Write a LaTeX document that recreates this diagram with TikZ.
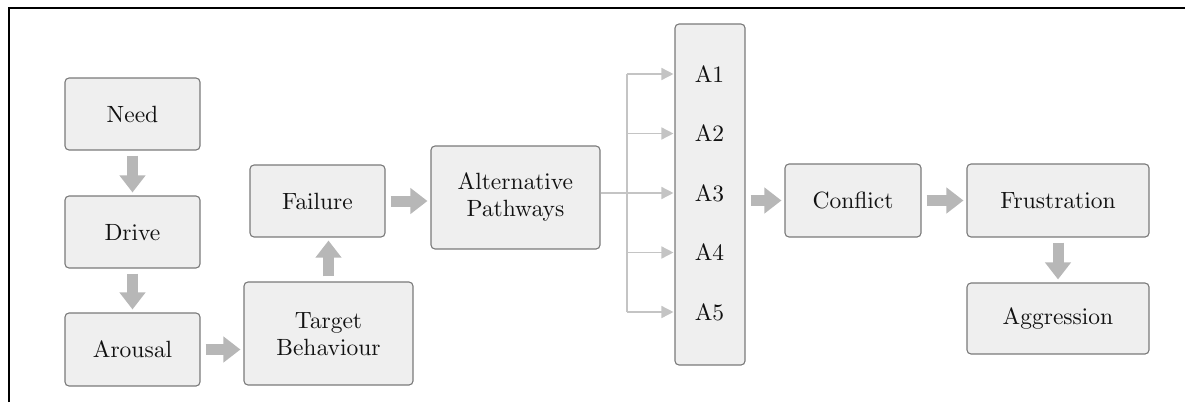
\documentclass[tikz,border=0pt]{standalone}
\usetikzlibrary{arrows.meta}
\definecolor{boxfill}{HTML}{EFEFEF}
\definecolor{boxline}{HTML}{7A7A7A}
\definecolor{arrowgray}{HTML}{B7B7B7}
\definecolor{thingray}{HTML}{C4C4C4}
\definecolor{textcol}{HTML}{111111}
\font\diagfont=cmr10 at 23.5pt
\begin{document}
\begin{tikzpicture}[x=1pt,y=-1pt,
  box/.style={draw=boxline, fill=boxfill, rounded corners=4pt, line width=1.1pt,
    align=center, inner sep=0pt, text=textcol, font=\fontsize{23.5}{27}\selectfont\diagfont},
  lbl/.style={inner sep=0pt, text=textcol, font=\fontsize{23.5}{27}\selectfont\diagfont},
  blockarrow/.style={draw=arrowgray, line width=11pt,
    -{Triangle[width=25pt,length=17pt]}, shorten <=5pt, shorten >=3pt},
  thinarrow/.style={draw=thingray, line width=1.5pt,
    -{Triangle[width=12pt,length=12pt]}, shorten >=1pt},
  thinline/.style={draw=thingray, line width=1.5pt}]
\useasboundingbox (0,0) rectangle (1185,402);
% frame
\draw[line width=2.4pt] (9,402) -- (9,8) -- (1185,8);
% boxes
\node[box, minimum width=135pt, minimum height=72pt] (need) at (132.5,114) {Need};
\node[box, minimum width=135pt, minimum height=72pt] (drive) at (132.5,232) {Drive};
\node[box, minimum width=135pt, minimum height=73pt] (arousal) at (132.5,349.5) {Arousal};
\node[box, minimum width=169pt, minimum height=103pt] (target) at (328.5,333.5) {Target\\Behaviour};
\node[box, minimum width=135pt, minimum height=72pt] (failure) at (317.5,201) {Failure};
\node[box, minimum width=169pt, minimum height=103pt] (alt) at (515.5,197.5) {Alternative\\Pathways};
\node[box, minimum width=70pt, minimum height=341pt] (col) at (710,194.5) {};
\node[lbl] (a1) at (709.5,74) {A1};
\node[lbl] (a2) at (709.5,133.5) {A2};
\node[lbl] (a3) at (709.5,193) {A3};
\node[lbl] (a4) at (709.5,252.5) {A4};
\node[lbl] (a5) at (709.5,312) {A5};
\node[box, minimum width=136pt, minimum height=73pt] (conflict) at (853,200.5) {Conflict};
\node[box, minimum width=182pt, minimum height=73pt] (frust) at (1058,200.5) {Frustration};
\node[box, minimum width=182pt, minimum height=71pt] (aggr) at (1058,318.5) {Aggression};
% block arrows
\draw[blockarrow] (need) -- (drive);
\draw[blockarrow] (drive) -- (arousal);
\draw[blockarrow] (arousal.east) -- (arousal.east -| target.west);
\draw[blockarrow] (target.north) -- (target.north |- failure.south);
\draw[blockarrow] (failure.east) -- (failure.east -| alt.west);
\draw[blockarrow] (conflict.west -| col.east) -- (conflict.west);
\draw[blockarrow] (conflict) -- (frust);
\draw[blockarrow] (frust) -- (aggr);
% branching
\coordinate (br) at (627,193);
\draw[thinline] (alt.east |- br) -- (br);
\draw[thinline] (br |- a1) -- (br |- a5);
\foreach \i in {1,...,5}{
  \draw[thinarrow] (br |- a\i) -- (col.west |- a\i);
}
\end{tikzpicture}
\end{document}
